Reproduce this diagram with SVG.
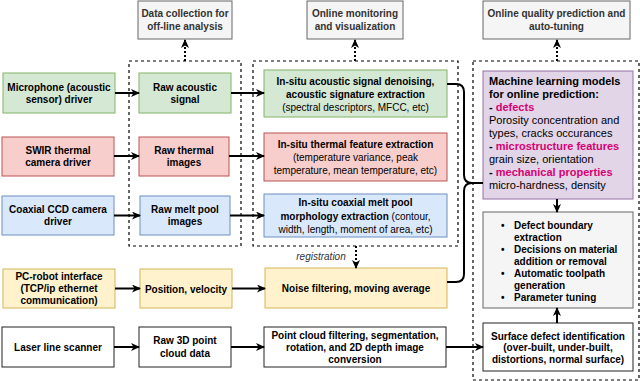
<svg xmlns="http://www.w3.org/2000/svg" width="640" height="381" viewBox="0 0 640 381">
<defs>
<style>
text{font-family:"Liberation Sans",Arial,Helvetica,sans-serif;font-size:10px;font-weight:bold;text-anchor:middle;fill:#000}
.n{font-weight:normal}
.it{font-style:italic;font-weight:normal;fill:#333}
.top rect{fill:#f5f5f5;stroke:#666;stroke-width:1}
.top text{fill:#333}
.g rect{fill:#d5e8d4;stroke:#82b366}
.rd rect{fill:#f8cecc;stroke:#b85450}
.bl rect{fill:#dae8fc;stroke:#6c8ebf}
.y rect{fill:#fff2cc;stroke:#d6b656}
.w rect{fill:#fff;stroke:#222}
.p rect{fill:#e1d5e7;stroke:#9673a6}
.gr rect{fill:#f5f5f5;stroke:#666}
.ml{font-size:11px;text-anchor:start}
.pk{fill:#d80073}
.li{text-anchor:start}
.cont{fill:none;stroke:#000;stroke-width:1.2;stroke-dasharray:3 3}
.arr{fill:none;stroke:#000;stroke-width:2;marker-end:url(#ah)}
.dot{fill:none;stroke:#000;stroke-width:2;stroke-dasharray:2 2;marker-end:url(#ah)}
.br{fill:none;stroke:#000;stroke-width:2}
</style>
<marker id="ah" viewBox="0 0 9 8" refX="8" refY="4" markerWidth="9" markerHeight="8" markerUnits="userSpaceOnUse" orient="auto">
<path d="M0,0 L9,4 L0,8 L2.5,4 z" fill="#000"/>
</marker>
</defs>
<rect width="640" height="381" fill="#fff"/>

<g id="containers">
<rect class="cont" x="129" y="61" width="112" height="185"/>
<rect class="cont" x="253" y="61" width="205" height="185"/>
<rect class="cont" x="473" y="61" width="166" height="319"/>
</g>

<g id="top1" class="top"><rect x="138" y="1" width="94" height="38"/><text x="185" y="17">Data collection for</text><text x="185" y="30">off-line analysis</text></g>
<g id="top2" class="top"><rect x="307" y="1" width="96" height="38"/><text x="355" y="17">Online monitoring</text><text x="355" y="30">and visualization</text></g>
<g id="top3" class="top"><rect x="483" y="1" width="147" height="38"/><text x="556.5" y="17">Online quality prediction and</text><text x="556.5" y="30">auto-tuning</text></g>

<g id="mic" class="g"><rect x="3" y="73" width="112" height="40"/><text x="59" y="90.5">Microphone (acoustic</text><text x="59" y="102.5">sensor) driver</text></g>
<g id="rawac" class="g"><rect x="139" y="73" width="92" height="40"/><text x="185" y="90.5">Raw acoustic</text><text x="185" y="102.5">signal</text></g>
<g id="insituac" class="g"><rect x="264" y="70" width="183" height="47"/><text x="355.5" y="84.5">In-situ acoustic signal denoising,</text><text x="355.5" y="97.5">acoustic signature extraction</text><text class="n" x="355.5" y="111">(spectral descriptors, MFCC, etc)</text></g>

<g id="swir" class="rd"><rect x="2" y="137" width="112" height="39"/><text x="58" y="153.5">SWIR thermal</text><text x="58" y="166">camera driver</text></g>
<g id="rawth" class="rd"><rect x="139" y="137" width="90" height="39"/><text x="184" y="153.5">Raw thermal</text><text x="184" y="166">images</text></g>
<g id="insituth" class="rd"><rect x="264" y="133" width="183" height="48"/><text x="355.5" y="147.5">In-situ thermal feature extraction</text><text class="n" x="355.5" y="160.5">(temperature variance, peak</text><text class="n" x="355.5" y="173.5">temperature, mean temperature, etc)</text></g>

<g id="coax" class="bl"><rect x="2" y="196" width="112" height="39"/><text x="58" y="212.5">Coaxial CCD camera</text><text x="58" y="225">driver</text></g>
<g id="rawmelt" class="bl"><rect x="140" y="196" width="90" height="39"/><text x="185" y="212.5">Raw melt pool</text><text x="185" y="225">images</text></g>
<g id="insituco" class="bl"><rect x="264" y="194" width="183" height="43"/><text x="355.5" y="206">In-situ coaxial melt pool</text><text x="355.5" y="219.5">morphology extraction<tspan class="n"> (contour,</tspan></text><text class="n" x="355.5" y="233">width, length, moment of area, etc)</text></g>

<g id="pc" class="y"><rect x="3" y="269" width="112" height="39"/><text x="59" y="280">PC-robot interface</text><text x="59" y="292">(TCP/ip ethernet</text><text x="59" y="304">communication)</text></g>
<g id="pos" class="y"><rect x="140" y="269" width="92" height="39"/><text x="186" y="292.5">Position, velocity</text></g>
<g id="noise" class="y"><rect x="265" y="268" width="182" height="40"/><text x="356" y="292">Noise filtering, moving average</text></g>

<g id="laser" class="w"><rect x="2" y="327" width="112" height="40"/><text x="58" y="351">Laser line scanner</text></g>
<g id="raw3d" class="w"><rect x="139" y="327" width="92" height="40"/><text x="185" y="344">Raw 3D point</text><text x="185" y="357">cloud data</text></g>
<g id="pcloud" class="w"><rect x="264" y="327" width="182" height="40"/><text x="355" y="338.5">Point cloud filtering, segmentation,</text><text x="355" y="350.5">rotation, and 2D depth image</text><text x="355" y="362.5">conversion</text></g>
<g id="surface" class="w"><rect x="483" y="323" width="150" height="48"/><text x="558" y="339.5">Surface defect identification</text><text x="558" y="351">(over-built, under-built,</text><text x="558" y="362.5">distortions, normal surface)</text></g>

<g id="ml" class="p"><rect x="483" y="71" width="150" height="128"/>
<text class="ml" x="489" y="84.5">Machine learning models</text>
<text class="ml" x="489" y="97.6">for online prediction:</text>
<text class="ml" x="489" y="110.7">- <tspan class="pk">defects</tspan></text>
<text class="ml n" x="489" y="123.8">Porosity concentration and</text>
<text class="ml n" x="489" y="136.9">types, cracks occurances</text>
<text class="ml" x="489" y="150">- <tspan class="pk">microstructure features</tspan></text>
<text class="ml n" x="489" y="163.1">grain size, orientation</text>
<text class="ml" x="489" y="176.2">- <tspan class="pk">mechanical properties</tspan></text>
<text class="ml n" x="489" y="189.3">micro-hardness, density</text>
</g>

<g id="actions" class="gr"><rect x="483" y="212" width="150" height="96"/>
<text class="li" x="501" y="228.5">•</text><text class="li" x="514" y="228.5">Defect boundary</text>
<text class="li" x="514" y="240.5">extraction</text>
<text class="li" x="501" y="252.5">•</text><text class="li" x="514" y="252.5">Decisions on material</text>
<text class="li" x="514" y="264.5">addition or removal</text>
<text class="li" x="501" y="276.5">•</text><text class="li" x="514" y="276.5">Automatic toolpath</text>
<text class="li" x="514" y="288.5">generation</text>
<text class="li" x="501" y="300.5">•</text><text class="li" x="514" y="300.5">Parameter tuning</text>
</g>

<g id="connectors">
<path class="dot" d="M185,61 V40"/>
<path class="dot" d="M355,61 V40"/>
<path class="dot" d="M557,61 V40"/>
<path class="dot" d="M356,246 V268"/>
<text class="it" x="321" y="260">registration</text>
<path class="arr" d="M115,93 H139"/>
<path class="arr" d="M231,93 H264"/>
<path class="arr" d="M114,156 H139"/>
<path class="arr" d="M229,156 H264"/>
<path class="arr" d="M114,215.5 H140"/>
<path class="arr" d="M230,215.5 H264"/>
<path class="arr" d="M115,288.5 H140"/>
<path class="arr" d="M232,288.5 H265"/>
<path class="arr" d="M114,347 H139"/>
<path class="arr" d="M231,347 H264"/>
<path class="arr" d="M446,347 H483"/>
<path class="arr" d="M557,199 V212"/>
<path class="arr" d="M557,323 V308"/>
<path class="br" d="M447,84 H456 Q464,84 464,92 V175 Q464,183 472,183 H483"/>
<path class="br" d="M447,282 H456 Q464,282 464,274 V191 Q464,183 472,183"/>
</g>
</svg>
